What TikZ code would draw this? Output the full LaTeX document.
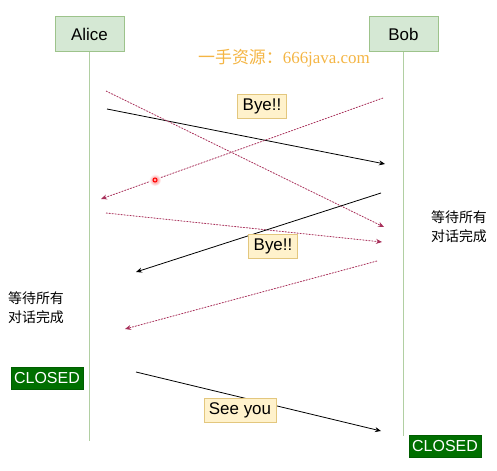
\documentclass[tikz,border=0pt]{standalone}
\usepackage{fontspec}
\setmainfont{Liberation Sans}
\newfontfamily\cjk{Noto Sans CJK SC}
\newfontfamily\wmserif{Liberation Serif}
\usetikzlibrary{arrows.meta}

\definecolor{lifefill}{HTML}{D5E8D4}
\definecolor{lifedraw}{HTML}{9DC38B}
\definecolor{notefill}{HTML}{FFF2CC}
\definecolor{notedraw}{HTML}{E3C77E}
\definecolor{msgred}{HTML}{A8305A}
\definecolor{closedfill}{HTML}{006F00}
\definecolor{wmcolor}{HTML}{F4B544}

\tikzset{
	actor/.style={draw=lifedraw, fill=lifefill, line width=1bp, minimum width=69bp,
		minimum height=35bp, inner sep=0pt, font=\fontsize{17}{20}\selectfont},
	life/.style={draw=lifedraw!80, line width=1bp},
	msg/.style={line width=0.8bp, -{Stealth[length=6bp,width=5bp]}},
	msgdot/.style={msg, draw=msgred, fill=msgred, dash pattern=on 1.5bp off 1.5bp},
	note/.style={draw=notedraw, fill=notefill, line width=0.8bp, minimum height=24bp,
		inner xsep=5bp, inner ysep=0pt, font=\fontsize{17}{20}\selectfont},
	closed/.style={fill=closedfill, draw=closedfill!85!black, text=white, minimum width=72bp,
		minimum height=22bp, inner sep=0pt, font=\fontsize{16}{18}\selectfont},
	wait/.style={align=left, inner sep=0pt, font=\cjk\fontsize{14}{19}\selectfont},
}

\begin{document}
\begin{tikzpicture}[x=1bp, y=-1bp]
\useasboundingbox (0,0) rectangle (497,471);

% Participantes
\node[actor] (A) at (89.5,34.5) {Alice};
\node[actor] (B) at (403.5,34.5) {Bob};
\coordinate (Aend) at (89.5,441);
\coordinate (Bend) at (403.5,436);
\draw[life] (A) -- (Aend);
\draw[life] (B) -- (Bend);

\node[text=wmcolor, inner sep=0pt, font=\fontsize{17}{20}\selectfont] (W) at (284,58)
	{{\cjk 一手资源：}{\wmserif 666java.com}};

% Mensajes
\coordinate (m1a) at (107,109); \coordinate (m1b) at (385,164);
\coordinate (m2a) at (106,91);  \coordinate (m2b) at (384,227);
\coordinate (m3a) at (383,98);  \coordinate (m3b) at (101,199);
\coordinate (m4a) at (106,213); \coordinate (m4b) at (382,242);
\coordinate (m5a) at (381,193); \coordinate (m5b) at (136,272);
\coordinate (m6a) at (377,261); \coordinate (m6b) at (125,329);
\coordinate (m7a) at (136,372); \coordinate (m7b) at (381,431);

\draw[msg] (m1a) -- (m1b);
\foreach \m in {m2, m3, m4, m6}
	\draw[msgdot] (\m a) -- (\m b);
\draw[msg] (m5a) -- (m5b);
\draw[msg] (m7a) -- (m7b);

% Etiquetas
\node[note] (bye1) at (262,106) {Bye!!};
\node[note] (bye2) at (273,246) {Bye!!};
\node[note] (see) at (240,410) {See you};

\node[wait] (waitB) at (459,227) {等待所有\\对话完成};
\node[wait] (waitA) at (36,308) {等待所有\\对话完成};

\node[closed] (cA) at (47,378) {CLOSED};
\node[closed] (cB) at (445,446.5) {CLOSED};

% Punto rojo
\shade[inner color=red!55, outer color=white] (155,180) circle (6bp);
\draw[red, line width=1bp, fill=red!35] (155,180) circle (2bp);
\end{tikzpicture}
\end{document}
